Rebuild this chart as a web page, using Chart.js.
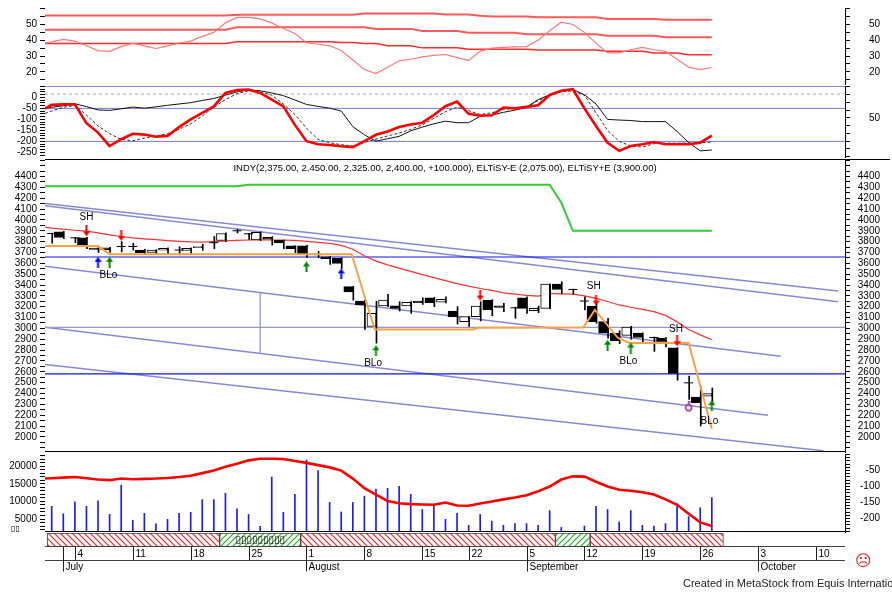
<!DOCTYPE html>
<html>
<head>
<meta charset="utf-8">
<title>INDY</title>
<script src="https://cdn.jsdelivr.net/npm/chart.js@4.4.1/dist/chart.umd.min.js"></script>
<style>
  html, body { margin: 0; padding: 0; background: #fff; width: 892px; height: 592px; overflow: hidden; }
  #page { position: relative; width: 892px; height: 592px; overflow: hidden; }
  #page canvas { position: absolute; left: 0; }
  .note { position: absolute; font-family: "Liberation Sans", Arial, sans-serif; white-space: nowrap; color: #000; }
</style>
</head>
<body>
<div id="page">
  <canvas id="panelA"></canvas>
  <canvas id="panelB"></canvas>
  <canvas id="panelPrice"></canvas>
  <canvas id="panelVol"></canvas>
  <canvas id="panelDates"></canvas>
  <div class="note" style="left:11px;top:524px;font-size:8px;font-family:'DejaVu Sans'">▯▯</div>
  <div class="note" style="left:855px;top:551px;font-size:16px;color:#e02020;font-family:'DejaVu Sans'">☹</div>
  <div class="note" style="left:683px;top:577px;font-size:11px;color:#222">Created in MetaStock from Equis International</div>
</div>
<script>
// trading days, x position of a bar = its index here
const dates = ['2011-06-30','2011-07-01','2011-07-04','2011-07-05','2011-07-06','2011-07-07','2011-07-08','2011-07-11','2011-07-12','2011-07-13',
  '2011-07-14','2011-07-15','2011-07-18','2011-07-19','2011-07-20','2011-07-21','2011-07-22','2011-07-25','2011-07-26','2011-07-27',
  '2011-07-28','2011-07-29','2011-08-01','2011-08-02','2011-08-03','2011-08-04','2011-08-05','2011-08-08','2011-08-09','2011-08-10',
  '2011-08-11','2011-08-12','2011-08-15','2011-08-16','2011-08-18','2011-08-19','2011-08-22','2011-08-23','2011-08-24','2011-08-25',
  '2011-08-26','2011-09-05','2011-09-06','2011-09-07','2011-09-08','2011-09-09','2011-09-12','2011-09-13','2011-09-14','2011-09-15',
  '2011-09-16','2011-09-19','2011-09-20','2011-09-21','2011-09-22','2011-09-23','2011-09-26','2011-09-27'];

// price candles
const open  = [3875,3890,3835,3835,3740,3743,3755,3755,3722,3700, 3722,3722,3718,3745,3790,3810,3900,3872,3815,3840,
               3811,3760,3760,3680,3660,3645,3385,3252,3017,3206, 3209,3206,3252,3282,3242,3160,3062,3108,3261,3209,
               3190,3282,3164,3185,3408,3359,3252,3206,3063,2956, 2935,2956,2916,2910,2820,2498,2367,2375];
const high  = [3878,3895,3838,3840,3756,3748,3800,3785,3728,3726, 3742,3752,3742,3775,3847,3882,3915,3876,3890,3845,
               3815,3762,3765,3710,3662,3650,3388,3258,3250,3313, 3246,3248,3282,3286,3290,3200,3112,3246,3265,3230,
               3195,3290,3206,3410,3430,3362,3292,3230,3093,2978, 3020,2960,2920,2915,2822,2560,2461,2450];
const low   = [3785,3828,3790,3735,3700,3700,3705,3722,3680,3688, 3680,3678,3682,3720,3734,3800,3880,3820,3810,3768,
               3734,3698,3655,3652,3590,3551,3260,2990,2864,3200, 3160,3139,3221,3200,3235,3040,3017,3069,3117,3155,
               3093,3139,3145,3180,3322,3316,3170,3047,2910,2860, 2900,2859,2788,2828,2522,2345,2100,2325];
const close = [3875,3838,3835,3765,3728,3726,3755,3755,3697,3722, 3738,3722,3738,3755,3790,3875,3900,3872,3885,3822,
               3789,3735,3680,3680,3643,3598,3337,3216,3139,3261, 3185,3240,3237,3237,3268,3108,3108,3206,3170,3194,
               3190,3185,3185,3408,3360,3359,3252,3063,2956,2886, 3011,2916,2916,2880,2585,2498,2315,2400];
const volume = [8600,6500,9900,8600,10200,6300,14600,4600,6600,3600, 4900,6600,6900,10500,10500,12300,7900,6300,2900,16900,
                6900,12000,21800,18800,9700,7000,9700,11500,13500,13700, 14300,12000,7700,8900,4900,6600,3200,6300,4400,3200,
                3700,3700,3200,7400,2600,0,3000,8600,7700,4200, 7400,3200,3000,3700,9300,5700,8200,11100];

// price overlays
const redAvg = [3925,3915,3905,3896,3880,3863,3847,3835,3826,3818, 3810,3803,3797,3796,3800,3806,3811,3815,3817,3815,
                3813,3811,3803,3793,3783,3765,3730,3670,3620,3585, 3555,3525,3495,3468,3440,3413,3390,3368,3350,3328,
                3315,3304,3298,3323,3318,3315,3300,3277,3248,3216, 3195,3175,3154,3120,3060,2990,2940,2895];
const upperStop = [4310,4310,4310,4310,4310,4310,4310,4310,4310,4310, 4310,4310,4310,4310,4310,4310,4310,4325,4325,4325,
                   4325,4325,4325,4325,4325,4325,4325,4325,4325,4325, 4325,4325,4325,4325,4325,4325,4325,4325,4325,4325,
                   4325,4325,4325,4325,4160,3900,3900,3900,3900,3900, 3900,3900,3900,3900,3900,3900,3900,3900];
const stopX = [-0.58, 4, 5, 25.9, 27.9, 36.4, 36.8, 45.9, 46.9, 48.9, 49.9, 55, 57];
const stopY = [3759, 3759, 3683, 3683, 2990, 2990, 3005, 3008, 3170, 2911, 2865, 2865, 2075];
const hLevelsBlue = [3658, 2580];
const hLevelGray = 3010;
const trendFromX = [-0.58, -0.58, -0.58, -0.58, -0.58];
const trendFromY = [4152, 4131, 3573, 3011, 2666];
const trendToX   = [67.9, 67.9, 62.95, 61.86, 66.63];
const trendToY   = [3344, 3246, 2742, 2199, 1872];
const vLineX = 18, vLineFrom = 3325, vLineTo = 2776;

// signals on the price panel
const redDownX = [3, 6, 37, 47, 54];
const redDownY = [3900, 3857, 3307, 3261, 2886];
const greenUpX = [5, 22, 28, 48, 50, 57];
const greenUpY = [3609, 3566, 2794, 2845, 2819, 2288];
const blueUpX = [4, 25];
const blueUpY = [3609, 3502];
const markX = [55], markY = [2284];
const signalText = ['SH', 'BLo', 'BLo', 'SH', 'BLo', 'SH', 'BLo'];
const signalX = [3, 4.9, 27.75, 46.8, 49.8, 53.9, 56.8];
const signalY = [4021, 3490, 2682, 3392, 2696, 2996, 2147];
const titleText = 'INDY(2,375.00, 2,450.00, 2,325.00, 2,400.00, +100.000), ELTiSY-E (2,075.00), ELTiSY+E (3,900.00)';

// top panel
const topA1 = [55.7,55.7,55.7,55.7,55.7,55.7,55.7,55.7,55.7,55.7, 55.7,55.7,55.7,55.7,55.7,55.7,56.2,56.2,56.2,56.2,
               56.2,56.2,56.2,56.2,56.2,56.2,56.2,57.0,57.0,57.0, 57.0,57.0,57.0,57.0,56.3,56.3,56.3,55.5,55.0,55.0,
               55.0,55.0,54.5,54.5,54.5,54.5,54.5,54.5,53.5,53.5, 53.5,53.5,53.5,53.0,53.0,53.0,53.0,53.0];
const topA2 = [46.7,46.7,46.7,46.7,46.7,46.7,46.7,46.7,46.7,46.7, 46.7,46.7,46.7,46.7,46.7,46.7,48.3,48.3,48.3,48.3,
               48.3,48.3,48.3,48.3,48.3,48.3,48.3,48.3,47.2,47.2, 47.2,47.2,45.8,45.8,45.8,45.8,44.8,44.8,44.8,44.8,
               44.8,43.8,43.8,43.8,43.8,43.8,43.8,43.8,42.8,42.8, 42.8,42.8,42.8,41.9,41.9,41.9,41.9,41.9];
const topA3 = [38.0,38.0,38.0,38.0,38.0,38.0,38.0,38.0,38.0,38.0, 38.0,38.0,38.0,38.0,38.0,38.0,39.0,39.0,39.0,39.0,
               39.0,39.0,39.0,39.0,39.0,38.6,38.6,38.0,38.0,36.6, 36.6,36.6,35.2,35.2,35.2,35.2,34.3,34.3,34.3,34.3,
               34.3,34.3,33.8,33.8,33.8,33.8,33.8,33.8,33.0,33.0, 33.0,33.0,32.0,32.0,32.0,30.8,30.8,30.8];
const topA4 = [39.0,40.6,39.5,36.5,33.5,33.0,36.0,38.2,36.5,34.8, 36.5,38.3,39.5,42.5,45.0,51.0,54.5,54.5,53.5,51.0,
               47.4,44.3,38.5,37.5,36.5,33.5,27.5,21.5,19.0,23.0, 27.0,28.0,29.5,30.4,31.0,29.0,27.3,33.0,35.0,35.5,
               35.8,36.0,40.0,46.0,51.4,50.0,45.0,38.2,32.0,32.0, 34.0,35.5,34.0,33.0,28.0,23.0,21.5,22.8];

// oscillator panel
const oscRed = [-34,-32,-32,-117,-160,-221,-190,-165,-169,-179, -175,-135,-100,-70,-41,20,33,36,20,-10,
                -41,-125,-199,-213,-216,-222,-226,-199,-170,-155, -135,-123,-115,-80,-40,-19,-75,-83,-81,-46,
                -50,-43,-36,11,30,37,-50,-130,-206,-243, -221,-213,-203,-213,-213,-213,-206,-174];
const oscBlack = [-45,-38,-29,-42,-57,-59,-52,-44,-49,-43, -36,-30,-24,-14,-5,10,25,34,30,20,
                  8,-12,-32,-41,-49,-62,-133,-170,-199,-188, -177,-152,-135,-120,-108,-115,-115,-86,-80,-68,
                  -58,-45,-10,12,30,36,12,-30,-100,-103, -105,-110,-110,-110,-155,-205,-243,-239];
const oscSignal = [-62,-45,-37,-80,-130,-165,-191,-197,-185,-175, -165,-145,-120,-85,-44,-10,17,30,25,10,
                   -30,-78,-140,-191,-206,-215,-221,-205,-190,-175, -162,-145,-125,-95,-65,-45,-60,-78,-70,-55,
                   -50,-45,-15,8,25,30,10,-70,-150,-200, -220,-226,-210,-208,-208,-207,-206,-203];
const oscLevels = [50, -50, -200];
const oscDashed = 15;

// volume panel line
const volOsc = [-74,-72,-70,-74,-78,-80,-75,-77,-76,-75, -73,-70,-66,-58,-50,-38,-29,-18,-13,-13,
                -14,-20,-26,-33,-40,-50,-75,-105,-125,-145, -152,-155,-156,-157,-150,-159,-160,-153,-147,-140,
                -134,-127,-115,-100,-78,-68,-69,-85,-100,-110, -113,-118,-125,-140,-157,-185,-212,-223];

// left-edge readings of the lines that start at the panel border
const edgeA = [55.7, 46.7, 38.0, 38.2];
const edgeB = [-51, -51, -73];
const edgePrice = [3933, 4310];
const edgeVol = -75;

// ribbon under the volume panel
const stripStart = [-0.4, 14.5, 21.5, 43.5, 46.5];
const stripEnd   = [14.5, 21.5, 43.5, 46.5, 58.0];
const stripKind  = ['red', 'green', 'red', 'green', 'red'];
const stripText = '▯▯▯▯▯▯▯▯▯';

// date axis
const dayTickIdx  = [2, 7, 12, 17, 22, 27, 32, 36, 41, 46, 51, 56, 61, 66];
const dayTickText = ['4', '11', '18', '25', '1', '8', '15', '22', '5', '12', '19', '26', '3', '10'];
const monthTickIdx  = [1, 22, 41, 61];
const monthTickText = ['July', 'August', 'September', 'October'];

// ---------------------------------------------------------------
const FONT = '"Liberation Sans", Arial, sans-serif';
Chart.defaults.font.family = FONT;
Chart.defaults.font.size = 10;
Chart.defaults.color = '#000';
Chart.defaults.animation = false;
Chart.defaults.events = [];
Chart.defaults.plugins.legend.display = false;
Chart.defaults.plugins.tooltip.enabled = false;

const X_MIN = -0.58, X_MAX = 68.5;
const PAD = 8;

function range(a, b, s) {
  const out = [];
  for (let v = a; v <= b + 1e-9; v += s) out.push(v);
  return out;
}
const series = (arr) => arr.map((v, i) => ({ x: i, y: v }));
const withEdge = (arr, edge) => [{ x: X_MIN, y: edge }].concat(series(arr));

function setupCanvas(id, top, bottom, padTop, padBottom) {
  const c = document.getElementById(id);
  c.width = 892;
  c.height = bottom - top + padTop + padBottom;
  c.style.top = (top - padTop) + 'px';
  return c;
}

const xScale = { type: 'linear', display: false, min: X_MIN, max: X_MAX, offset: false, bounds: 'data' };

function yAxis(pos, min, max, ticks, labels) {
  return {
    type: 'linear', position: pos, min: min, max: max, bounds: 'data',
    afterBuildTicks: s => { s.ticks = ticks.map(v => ({ value: v })); },
    afterFit: s => { s.width = pos === 'left' ? 45 : 35; },
    grid: { drawOnChartArea: false, drawTicks: true, tickLength: 5, tickColor: '#000' },
    border: { display: pos === 'right', color: '#000' },
    ticks: {
      autoSkip: false, padding: 3, crossAlign: pos === 'left' ? 'near' : 'far',
      callback: v => labels.includes(v) ? String(v) : ''
    }
  };
}

function line(data, color, width, axis, extra) {
  return Object.assign({
    type: 'line', data: data, borderColor: color, borderWidth: width,
    pointRadius: 0, tension: 0, yAxisID: axis, fill: false
  }, extra || {});
}

const panelLayout = { padding: { top: PAD, bottom: PAD, left: 0, right: 12 } };

// little arrow and marker icons
function arrowIcon(color, up) {
  const c = document.createElement('canvas');
  c.width = 7; c.height = 11;
  const g = c.getContext('2d');
  g.fillStyle = color;
  if (up) {
    g.beginPath(); g.moveTo(3.5, 0); g.lineTo(7, 5); g.lineTo(0, 5); g.closePath(); g.fill();
    g.fillRect(2.5, 5, 2, 6);
  } else {
    g.fillRect(2.5, 0, 2, 6);
    g.beginPath(); g.moveTo(0, 6); g.lineTo(7, 6); g.lineTo(3.5, 11); g.closePath(); g.fill();
  }
  return c;
}
function markIcon() {
  const c = document.createElement('canvas');
  c.width = 9; c.height = 11;
  const g = c.getContext('2d');
  g.strokeStyle = '#993399'; g.lineWidth = 1.5;
  g.beginPath(); g.arc(4.5, 7, 3, 0, Math.PI * 2); g.stroke();
  g.beginPath(); g.moveTo(4.5, 4); g.lineTo(4.5, 1); g.lineTo(7, 1); g.stroke();
  return c;
}
function hatch(color, dir) {
  const c = document.createElement('canvas');
  c.width = 6; c.height = 6;
  const g = c.getContext('2d');
  g.fillStyle = '#ffffff'; g.fillRect(0, 0, 6, 6);
  g.strokeStyle = color; g.lineWidth = 1.2;
  g.beginPath();
  if (dir > 0) {
    g.moveTo(0, 0); g.lineTo(6, 6); g.moveTo(-3, 3); g.lineTo(3, 9); g.moveTo(3, -3); g.lineTo(9, 3);
  } else {
    g.moveTo(0, 6); g.lineTo(6, 0); g.moveTo(-3, 3); g.lineTo(3, -3); g.moveTo(3, 9); g.lineTo(9, 3);
  }
  g.stroke();
  return g.createPattern(c, 'repeat');
}

function hRule(ctx, y, x1, x2, color) {
  ctx.save();
  ctx.strokeStyle = color; ctx.lineWidth = 1;
  ctx.beginPath(); ctx.moveTo(x1, y); ctx.lineTo(x2, y); ctx.stroke();
  ctx.restore();
}

// ---------------- top panel ----------------
new Chart(setupCanvas('panelA', 7, 85, PAD, PAD), {
  type: 'line',
  data: {
    datasets: [
      line(withEdge(topA4, edgeA[3]), '#ff7878', 1.2, 'yL'),
      line(withEdge(topA3, edgeA[2]), '#ff2a2a', 1.5, 'yL'),
      line(withEdge(topA2, edgeA[1]), '#ff5a5a', 2, 'yL'),
      line(withEdge(topA1, edgeA[0]), '#ff5a5a', 2, 'yL')
    ]
  },
  options: {
    responsive: false, layout: panelLayout,
    scales: {
      x: xScale,
      yL: yAxis('left', 12.35, 60.41, range(15, 60, 5), [20, 30, 40, 50]),
      yR: yAxis('right', 12.35, 60.41, range(15, 60, 5), [20, 30, 40, 50])
    }
  }
});

// ---------------- oscillator panel ----------------
const levelLine = (v, color, extra) => line([{ x: X_MIN, y: v }, { x: X_MAX, y: v }], color, 1, 'yL', extra);
new Chart(setupCanvas('panelB', 85, 158, PAD, PAD), {
  type: 'line',
  data: {
    datasets: [
      line(withEdge(oscRed, edgeB[0]), '#ff0000', 2.6, 'yL'),
      line(withEdge(oscBlack, edgeB[1]), '#111111', 1, 'yL'),
      line(withEdge(oscSignal, edgeB[2]), '#333333', 1, 'yL', { borderDash: [3, 2] }),
      levelLine(oscDashed, '#a8a8a8', { borderDash: [3, 3] }),
      ...oscLevels.map(v => levelLine(v, '#7878d8'))
    ]
  },
  options: {
    responsive: false, layout: panelLayout,
    scales: {
      x: xScale,
      yL: yAxis('left', -270.8, 51.68, range(-262.5, 50, 12.5), [0, -50, -100, -150, -200, -250]),
      yR: yAxis('right', -0.4, 90.9, range(0, 90, 10), [50])
    }
  }
});

// ---------------- price panel ----------------
const isDoji = open.map((o, i) => o === close[i]);
const bodies = [], dojis = [], wicks = [];
dates.forEach((d, i) => {
  wicks.push({ x: i, y: [low[i], high[i]] });
  if (isDoji[i]) dojis.push({ x: i, y: open[i] });
  else bodies.push({ x: i, y: [open[i], close[i]] });
});
const marks = (xs, ys) => xs.map((x, k) => ({ x: x, y: ys[k] }));
const iconSet = (xs, ys, icon) => ({
  type: 'line', data: marks(xs, ys), showLine: false, yAxisID: 'yL',
  pointStyle: icon, pointRadius: 5
});
const trendSets = trendFromX.map((x0, k) =>
  line([{ x: x0, y: trendFromY[k] }, { x: trendToX[k], y: trendToY[k] }], 'rgba(96,96,200,0.75)', 1.5, 'yL'));

const priceDecor = {
  id: 'priceDecor',
  afterDatasetsDraw(chart) {
    const { ctx, chartArea: a, scales: { x, yL } } = chart;
    hRule(ctx, a.top + 0.5, 45, 890, '#000');
    hRule(ctx, a.bottom - 0.5, 45, 845, '#000');
    ctx.save();
    ctx.fillStyle = '#000';
    ctx.textAlign = 'center';
    ctx.textBaseline = 'middle';
    ctx.font = '9.5px ' + FONT;
    ctx.fillText(titleText, 445, a.top + 9);
    ctx.font = '10px ' + FONT;
    signalText.forEach((t, k) => ctx.fillText(t, x.getPixelForValue(signalX[k]), yL.getPixelForValue(signalY[k])));
    ctx.restore();
  }
};

new Chart(setupCanvas('panelPrice', 158, 453, PAD, PAD), {
  type: 'bar',
  data: {
    datasets: [
      iconSet(redDownX, redDownY, arrowIcon('#ff0000', false)),
      iconSet(greenUpX, greenUpY, arrowIcon('#008800', true)),
      iconSet(blueUpX, blueUpY, arrowIcon('#0000ff', true)),
      iconSet(markX, markY, markIcon()),
      line(stopX.map((x, k) => ({ x: x, y: stopY[k] })), '#ffa040', 2, 'yL'),
      {
        type: 'line', data: dojis, showLine: false, yAxisID: 'yL',
        pointStyle: 'line', pointRadius: 4.5, pointBorderWidth: 1, pointBorderColor: '#000'
      },
      {
        type: 'bar', data: bodies, yAxisID: 'yL', barThickness: 9,
        backgroundColor: c => (c.raw && c.raw.y[1] > c.raw.y[0]) ? '#ffffff' : '#000000',
        borderColor: '#000', borderWidth: 1, borderSkipped: false
      },
      { type: 'bar', data: wicks, yAxisID: 'yL', barThickness: 1, backgroundColor: '#000' },
      line(withEdge(redAvg, edgePrice[0]), '#ff3030', 1.2, 'yL'),
      line(withEdge(upperStop, edgePrice[1]), '#33cc33', 2, 'yL'),
      ...hLevelsBlue.map(v => line([{ x: X_MIN, y: v }, { x: X_MAX, y: v }], '#1010ff', 1.2, 'yL')),
      line([{ x: X_MIN, y: hLevelGray }, { x: X_MAX, y: hLevelGray }], '#9a9ac8', 1.2, 'yL'),
      line([{ x: vLineX, y: vLineFrom }, { x: vLineX, y: vLineTo }], 'rgba(96,96,200,0.75)', 1.2, 'yL'),
      ...trendSets
    ]
  },
  options: {
    responsive: false, layout: panelLayout,
    scales: {
      x: xScale,
      yL: yAxis('left', 1860.3, 4561.7, range(1900, 4550, 50), range(2000, 4400, 100)),
      yR: yAxis('right', 1860.3, 4561.7, range(1900, 4550, 50), range(2000, 4400, 100))
    }
  },
  plugins: [priceDecor]
});

// ---------------- volume panel ----------------
const volDecor = {
  id: 'volDecor',
  afterDatasetsDraw(chart) {
    hRule(chart.ctx, chart.chartArea.bottom - 0.5, 45, 845, '#000');
  }
};
new Chart(setupCanvas('panelVol', 453, 533, PAD, PAD), {
  type: 'bar',
  data: {
    datasets: [
      line(withEdge(volOsc, edgeVol), '#ff0000', 2.6, 'yR'),
      { type: 'bar', data: series(volume), yAxisID: 'yL', barThickness: 1, backgroundColor: '#1a1aff' }
    ]
  },
  options: {
    responsive: false, layout: panelLayout,
    scales: {
      x: xScale,
      yL: yAxis('left', 1303, 23489, range(2000, 23000, 1000), [5000, 10000, 15000, 20000]),
      yR: yAxis('right', -242.1, 1.83, range(-240, 0, 10), [-50, -100, -150, -200])
    }
  },
  plugins: [volDecor]
});

// ---------------- ribbon + date axis ----------------
const redHatch = hatch('#ff2020', 1);
const greenHatch = hatch('#22b022', -1);
const dateAxis = {
  id: 'dateAxis',
  afterDatasetsDraw(chart) {
    const { ctx, chartArea: a, scales: { x } } = chart;
    const top = a.bottom - 0.5;
    const mid = a.bottom + 13.5;
    hRule(ctx, top, 45, 845, '#404040');
    hRule(ctx, mid, 45, 845, '#404040');
    ctx.save();
    ctx.strokeStyle = '#202020';
    ctx.lineWidth = 1;
    ctx.font = '10px ' + FONT;
    ctx.fillStyle = '#000';
    ctx.textAlign = 'left';
    ctx.textBaseline = 'middle';
    dayTickIdx.forEach((d, k) => {
      const px = Math.round(x.getPixelForValue(d)) + 0.5;
      ctx.beginPath(); ctx.moveTo(px, top); ctx.lineTo(px, mid); ctx.stroke();
      ctx.fillText(dayTickText[k], px + 2, top + 7.5);
    });
    monthTickIdx.forEach((d, k) => {
      const px = Math.round(x.getPixelForValue(d)) + 0.5;
      ctx.beginPath(); ctx.moveTo(px, top); ctx.lineTo(px, top + 25); ctx.stroke();
      ctx.fillText(monthTickText[k], px + 2, top + 20.5);
    });
    // text inside the first green block
    const gx = (x.getPixelForValue(stripStart[1]) + x.getPixelForValue(stripEnd[1])) / 2;
    ctx.textAlign = 'center';
    ctx.font = '10px "DejaVu Sans"';
    ctx.fillText(stripText, gx, (a.top + a.bottom) / 2);
    ctx.restore();
  }
};
new Chart(setupCanvas('panelDates', 533, 547, 0, 45), {
  type: 'bar',
  data: {
    labels: ['ribbon'],
    datasets: [{
      data: stripStart.map((s, k) => ({ x: [s, stripEnd[k]], y: 'ribbon' })),
      backgroundColor: stripKind.map(k => k === 'red' ? redHatch : greenHatch),
      borderColor: '#404040', borderWidth: 1, borderSkipped: false,
      barPercentage: 1, categoryPercentage: 1, grouped: false
    }]
  },
  options: {
    responsive: false, indexAxis: 'y',
    layout: { padding: { top: 0, bottom: 45, left: 45, right: 47 } },
    scales: {
      x: xScale,
      y: { type: 'category', display: false, offset: true }
    }
  },
  plugins: [dateAxis]
});
</script>
</body>
</html>
